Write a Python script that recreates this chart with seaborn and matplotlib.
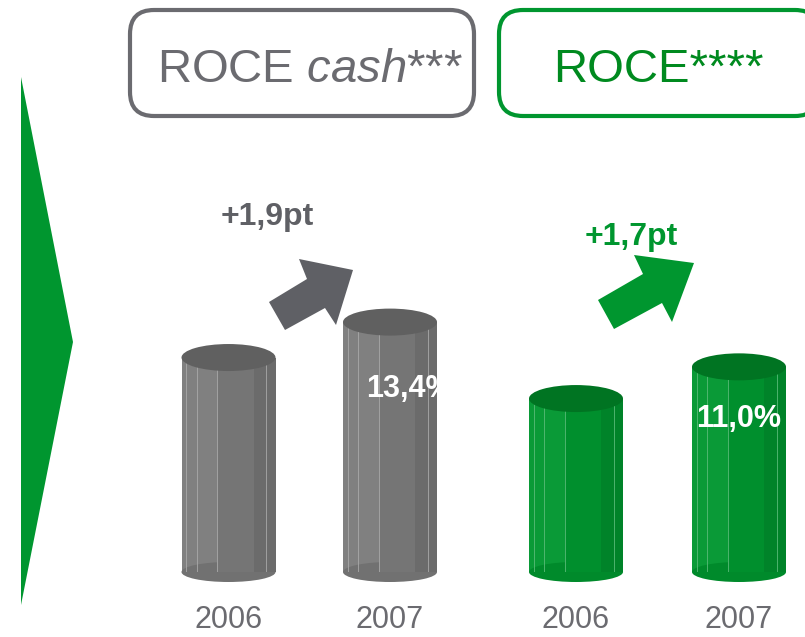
import matplotlib
matplotlib.use("Agg")
import matplotlib.pyplot as plt
from matplotlib.patches import Ellipse, Polygon, FancyBboxPatch, Rectangle
import numpy as np
import pandas as pd
import seaborn as sb

# data
years = ["2006", "2007"]
roce_cash = [11.5, 13.4]
roce = [9.3, 11.0]
roce_cash_labels = ["", "13,4%"]
roce_labels = ["", "11,0%"]
roce_cash_delta = "+1,9pt"
roce_delta = "+1,7pt"

GREY = "#7b7b7b"
GREY_DARK = "#606060"
GREY_TXT = "#6b6b70"
GREEN = "#00962f"
GREEN_DARK = "#007422"

sb.set_theme(style="white")
plt.rcParams['font.family'] = ['Liberation Sans', 'DejaVu Sans']
plt.rcParams['mathtext.fontset'] = 'custom'
plt.rcParams['mathtext.rm'] = 'Liberation Sans'
plt.rcParams['mathtext.it'] = 'Liberation Sans:italic'

W, H = 805, 637
PX = 18.65  # pixels per percentage point
BASE = 572  # baseline pixel row
TOP = 100

fig = plt.figure(figsize=(W / 100, H / 100), dpi=100)

# decoration layer in pixel coordinates
deco = fig.add_axes([0, 0, 1, 1], zorder=-1)
deco.set_xlim(0, W)
deco.set_ylim(H, 0)
deco.axis('off')


def shade(c, f):
    rgb = np.array(matplotlib.colors.to_rgb(c))
    if f > 0:
        rgb = rgb + (1 - rgb) * f
    else:
        rgb = rgb * (1 + f)
    return rgb


def cylinder_bars(ax, base_color, top_color):
    for p in ax.patches:
        x0, w, h = p.get_x(), p.get_width(), p.get_height()
        p.set_facecolor(shade(base_color, 0.04))
        p.set_edgecolor('none')
        # facets with darker right side
        ax.add_patch(Rectangle((x0 + 0.38 * w, 0), 0.39 * w, h, color=shade(base_color, -0.05), lw=0, zorder=3))
        ax.add_patch(Rectangle((x0 + 0.77 * w, 0), 0.23 * w, h, color=shade(base_color, -0.13), lw=0, zorder=3))
        for f in [0.05, 0.16, 0.38, 0.9]:
            ax.plot([x0 + f * w] * 2, [0, h], color=shade(base_color, 0.35), lw=0.6, zorder=4)
        # bottom rim and top cap
        ax.add_patch(Ellipse((x0 + w / 2, 0), w, 20 / PX, color=shade(base_color, -0.08), lw=0, zorder=2, clip_on=False))
        ax.add_patch(Ellipse((x0 + w / 2, h), w, 27 / PX, color=top_color, lw=0, zorder=5, clip_on=False))


def panel(left_px, right_px, spacing, values, labels, base_color, top_color, lab_dx, lab_dy):
    ax = fig.add_axes([left_px / W, (H - BASE) / H, (right_px - left_px) / W, (BASE - TOP) / H])
    df = pd.DataFrame({"year": years, "value": values})
    sb.barplot(data=df, x="year", y="value", hue="year", palette=[base_color, base_color],
               width=94 / spacing, legend=False, ax=ax, saturation=1)
    ax.set_xlim(-0.5, -0.5 + (right_px - left_px) / spacing)
    ax.set_ylim(0, (BASE - TOP) / PX)
    ax.set_facecolor('none')
    for s in ax.spines.values():
        s.set_visible(False)
    ax.set_yticks([])
    ax.set_xlabel('')
    ax.set_ylabel('')
    ax.tick_params(axis='x', length=0, pad=24, labelsize=22, labelcolor=GREY_TXT)
    cylinder_bars(ax, base_color, top_color)
    for i, (v, t) in enumerate(zip(values, labels)):
        if t:
            ax.text(i + lab_dx, v - lab_dy, t, color='white', fontsize=22, fontweight='bold',
                    ha='center', va='center', zorder=6, clip_on=False)
    return ax


panel(147.75, 470.75, 161.5, roce_cash, roce_cash_labels, GREY, GREY_DARK, 0.12, 3.6)
panel(494.5, 805, 163, roce, roce_labels, GREEN, GREEN_DARK, 0.0, 2.8)

# big green chevron on the left
deco.add_patch(Polygon([(21, 77), (21, 605), (73, 342)], color=GREEN, lw=0))

# header boxes
deco.add_patch(FancyBboxPatch((130, 10), 344, 106, boxstyle="round,pad=0,rounding_size=24",
                              fc='white', ec=GREY_TXT, lw=3))
deco.add_patch(FancyBboxPatch((499, 10), 320, 106, boxstyle="round,pad=0,rounding_size=24",
                              fc='white', ec=GREEN, lw=3, clip_on=False))
deco.text(157, 82, r"ROCE $\mathit{cash}$***", fontsize=34, color=GREY_TXT, ha='left', va='baseline')
deco.text(553, 82, "ROCE****", fontsize=34, color="#008a1f", ha='left', va='baseline')

# growth arrows
deco.add_patch(Polygon([(285, 330), (269, 302), (307, 279), (299, 259), (353, 270), (336, 325), (325, 308)],
                       color="#5f6065", lw=0))
deco.add_patch(Polygon([(598, 300), (643, 274), (634, 255), (694, 263), (672, 322), (662, 303), (614, 329)],
                       color=GREEN, lw=0))
deco.text(267, 217, roce_cash_delta, fontsize=23, fontweight='bold', color="#5f6065", ha='center', va='center')
deco.text(631, 237, roce_delta, fontsize=23, fontweight='bold', color=GREEN, ha='center', va='center')

fig.savefig("out.png", dpi=100)
